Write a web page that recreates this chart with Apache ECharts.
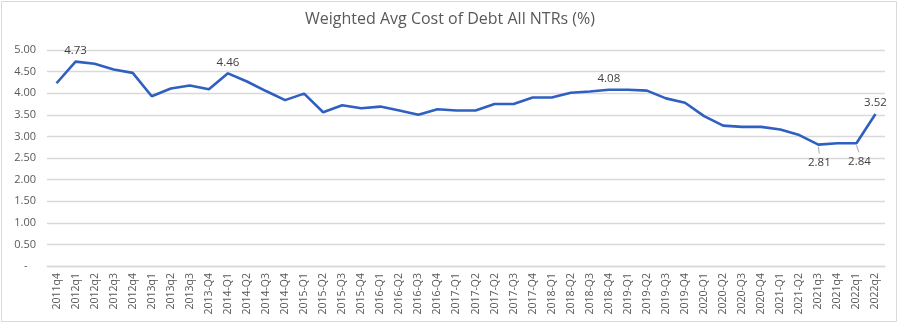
<!DOCTYPE html>
<html>
<head>
<meta charset="utf-8">
<script src="https://cdn.jsdelivr.net/npm/echarts@6/dist/echarts.min.js"></script>
<style>
html,body{margin:0;padding:0;background:#fff;}
#c{width:900px;height:324px;}
</style>
</head>
<body>
<div id="c"></div>
<script>
const categories = ["2011q4","2012q1","2012q2","2012q3","2012q4","2013q1","2013q2","2013q3","2013-Q4",
"2014-Q1","2014-Q2","2014-Q3","2014-Q4","2015-Q1","2015-Q2","2015-Q3","2015-Q4",
"2016-Q1","2016-Q2","2016-Q3","2016-Q4","2017-Q1","2017-Q2","2017-Q2","2017-Q3","2017-Q4",
"2018-Q1","2018-Q2","2018-Q3","2018-Q4","2019-Q1","2019-Q2","2019-Q3","2019-Q4",
"2020-Q1","2020-Q2","2020-Q3","2020-Q4","2021-Q1","2021-Q2","2021q3","2021q4","2022q1","2022q2"];
const values = [4.23,4.73,4.68,4.55,4.47,3.93,4.11,4.18,4.09,
4.46,4.27,4.05,3.84,3.99,3.56,3.72,3.65,
3.69,3.60,3.50,3.63,3.60,3.60,3.75,3.75,3.90,
3.90,4.01,4.04,4.08,4.08,4.06,3.88,3.78,
3.47,3.25,3.22,3.22,3.16,3.03,2.81,2.84,2.84,3.52];
const labelsAbove = [1,9,29,43];
const labelsBelow = [40,42];
const yTicks = [0,0.5,1,1.5,2,2.5,3,3.5,4,4.5,5];

const font = "'Open Sans', 'Liberation Sans', sans-serif";
const data = values.map((v,i)=>{
  const d = {value:v};
  if (labelsAbove.includes(i)) {
    d.label = {show:true, position:'top', distance:5};
  } else if (labelsBelow.includes(i)) {
    d.label = {show:true, position:'bottom', distance:12};
  }
  return d;
});

const chart = echarts.init(document.getElementById('c'), null, {renderer:'canvas'});
chart.setOption({
  animation:false,
  backgroundColor:'#fff',
  title:{text:'Weighted Avg Cost of Debt All NTRs (%)', left:'center', top:6,
    textStyle:{fontFamily:font, fontSize:16, fontWeight:'normal', color:'#595959'}},
  graphic:[{type:'rect', shape:{x:1.5,y:1.5,width:895,height:320},
    style:{fill:'none', stroke:'#d9d9d9', lineWidth:1}, silent:true}],
  grid:{left:47, right:15, top:50, bottom:58, containLabel:false},
  xAxis:{type:'category', data:categories, boundaryGap:true,
    axisLine:{show:true, lineStyle:{color:'#d9d9d9', width:1.3}},
    axisTick:{show:false},
    axisLabel:{rotate:90, interval:0, fontFamily:font, fontSize:10.5, color:'#595959', margin:7}},
  yAxis:{type:'value', min:0, max:5, interval:0.5,
    axisLine:{show:false}, axisTick:{show:false},
    splitLine:{lineStyle:{color:'#d9d9d9', width:1.3}},
    axisLabel:{fontFamily:font, fontSize:11, color:'#595959', margin:11,
      formatter:v=> v===0 ? '-   ' : v.toFixed(2)}},
  series:[{type:'line', data:data, symbol:'circle', symbolSize:0, showSymbol:true, smooth:false,
    itemStyle:{color:'#2f5fc0'},
    lineStyle:{color:'#2f5fc0', width:2.6},
    label:{show:false, fontFamily:font, fontSize:11.5, color:'#404040'},
    labelLine:{show:false},
    labelLayout:function(p){
      if (p.dataIndex === 42) return {dx:3};
      if (p.dataIndex === 40) return {dx:1};
      return {};
    }
  },{
    type:'custom', silent:true, z:1,
    data: labelsBelow.map(i=>[i, values[i]]),
    renderItem:function(params, api){
      const pt = api.coord([api.value(0), api.value(1)]);
      const lean = api.value(0) === 42 ? 2.5 : 1;
      return {type:'line', shape:{x1:pt[0], y1:pt[1]+2, x2:pt[0]+lean, y2:pt[1]+9},
        style:{stroke:'#a6a6a6', lineWidth:1}};
    }
  }]
});
</script>
</body>
</html>
